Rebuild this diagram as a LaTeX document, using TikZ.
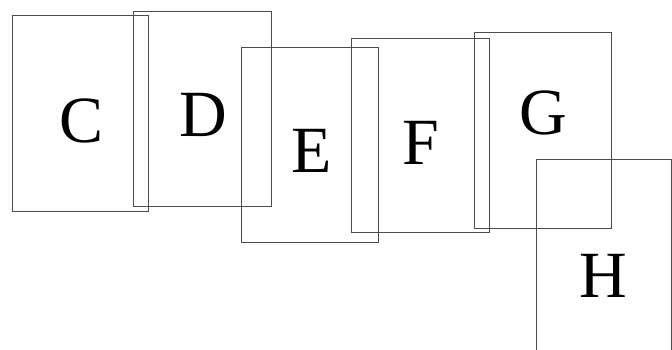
\documentclass[tikz,border=0pt]{standalone}
\usepackage{fontspec}
\setmainfont{Liberation Serif}
\begin{document}
\begin{tikzpicture}[x=1pt,y=-1pt,
  pagebox/.style={draw=black!70,line width=0.9pt},
  letter/.style={anchor=base,inner sep=0pt,font=\fontsize{66}{66}\selectfont,text=black}]
\clip (0,0) rectangle (672,349);
\fill[white] (0,0) rectangle (672,349);
\draw[pagebox] (12,15) rectangle (148,211) coordinate (boxC);
\draw[pagebox] (133,11) rectangle (271,206) coordinate (boxD);
\draw[pagebox] (241,47) rectangle (378,242) coordinate (boxE);
\draw[pagebox] (351,38) rectangle (489,232) coordinate (boxF);
\draw[pagebox] (474,32) rectangle (611,228) coordinate (boxG);
\draw[pagebox] (536,159) rectangle (671,360) coordinate (boxH);
\node[letter] (C) at (82,142) {C};
\node[letter] (D) at (203,136) {D};
\node[letter] (E) at (312,172) {E};
\node[letter] (F) at (421,164) {F};
\node[letter] (G) at (543,134) {G};
\node[letter] (H) at (603,297) {H};
\end{tikzpicture}
\end{document}
